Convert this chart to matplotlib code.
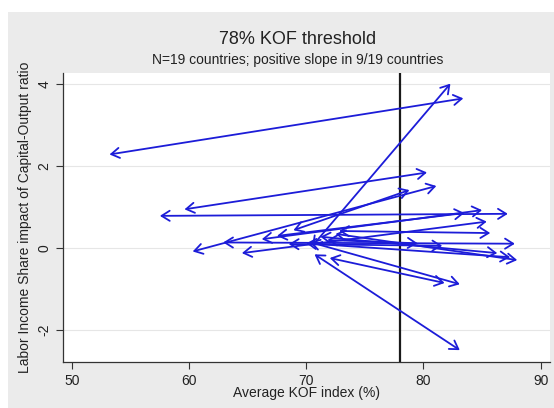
import matplotlib.pyplot as plt
from matplotlib.patches import Rectangle

plt.rcParams['font.family'] = ['Liberation Sans', 'DejaVu Sans']

# country segments: left end (below threshold) -> right end (above threshold)
x_left = [53.2, 59.6, 60.3, 64.5, 70.5, 68.9, 57.5, 66.2, 67.5,
          62.9, 70.7, 72.0, 70.3, 71.2, 72.5, 70.0, 72.8, 68.5, 71.8]
y_left = [2.29, 0.95, -0.08, -0.12, 0.05, 0.44, 0.79, 0.22, 0.30,
          0.14, -0.15, -0.24, 0.15, 0.28, 0.35, 0.12, 0.42, 0.10, 0.20]
x_right = [83.4, 80.3, 81.1, 85.4, 82.3, 78.8, 87.2, 85.0, 83.5,
           87.8, 83.1, 81.8, 83.1, 86.3, 88.0, 87.4, 85.7, 81.6, 79.5]
y_right = [3.66, 1.85, 1.52, 0.65, 4.02, 1.42, 0.84, 0.93, 0.86,
           0.11, -2.49, -0.85, -0.88, -0.12, -0.29, -0.22, 0.37, 0.06, 0.12]

threshold = 78
xticks = [50, 60, 70, 80, 90]
yticks = [-2, 0, 2, 4]

fig = plt.figure(figsize=(5.54, 4.08), dpi=100)
fig.patch.set_facecolor('white')
# grey graph region (Stata style)
fig.patches.append(Rectangle((8/554, 0), 1, 1 - 12/408, transform=fig.transFigure,
                             facecolor='#ebebeb', edgecolor='none', zorder=-1))

ax = fig.add_axes([63/554, 46/408, 487/554, 289/408])
ax.set_facecolor('white')
ax.set_xlim(49.23, 90.8)
ax.set_ylim(-2.78, 4.28)

for y in yticks:
    ax.axhline(y, color='#e6e6e6', lw=0.8, zorder=0)

ax.axvline(threshold, color='#1a1a1a', lw=1.6, zorder=1)

for x1, y1, x2, y2 in zip(x_left, y_left, x_right, y_right):
    ax.annotate('', xy=(x2, y2), xytext=(x1, y1),
                arrowprops=dict(arrowstyle='<->,head_length=0.45,head_width=0.28',
                                color='#1c1cd8', lw=1.3, shrinkA=0, shrinkB=0,
                                mutation_scale=13),
                zorder=2)

for s in ['top', 'right']:
    ax.spines[s].set_visible(False)
for s in ['left', 'bottom']:
    ax.spines[s].set_color('#333333')
    ax.spines[s].set_linewidth(0.9)

ax.set_xticks(xticks)
ax.set_yticks(yticks)
ax.set_yticklabels([str(t) for t in yticks], rotation=90, va='center')
ax.tick_params(axis='both', labelsize=10, length=5, color='#333333', labelcolor='#222222')

ax.set_xlabel('Average KOF index (%)', fontsize=10, labelpad=-1, color='#222222')
ax.set_ylabel('Labor Income Share impact of Capital-Output ratio', fontsize=10,
              labelpad=4, color='#222222')

fig.text(0.538, 1 - 40/408, '78% KOF threshold', ha='center', va='center',
         fontsize=13, color='#222222')
fig.text(0.538, 1 - 60/408, 'N=19 countries; positive slope in 9/19 countries',
         ha='center', va='center', fontsize=10, color='#222222')

fig.savefig('out.png', dpi=100, facecolor=fig.get_facecolor())
